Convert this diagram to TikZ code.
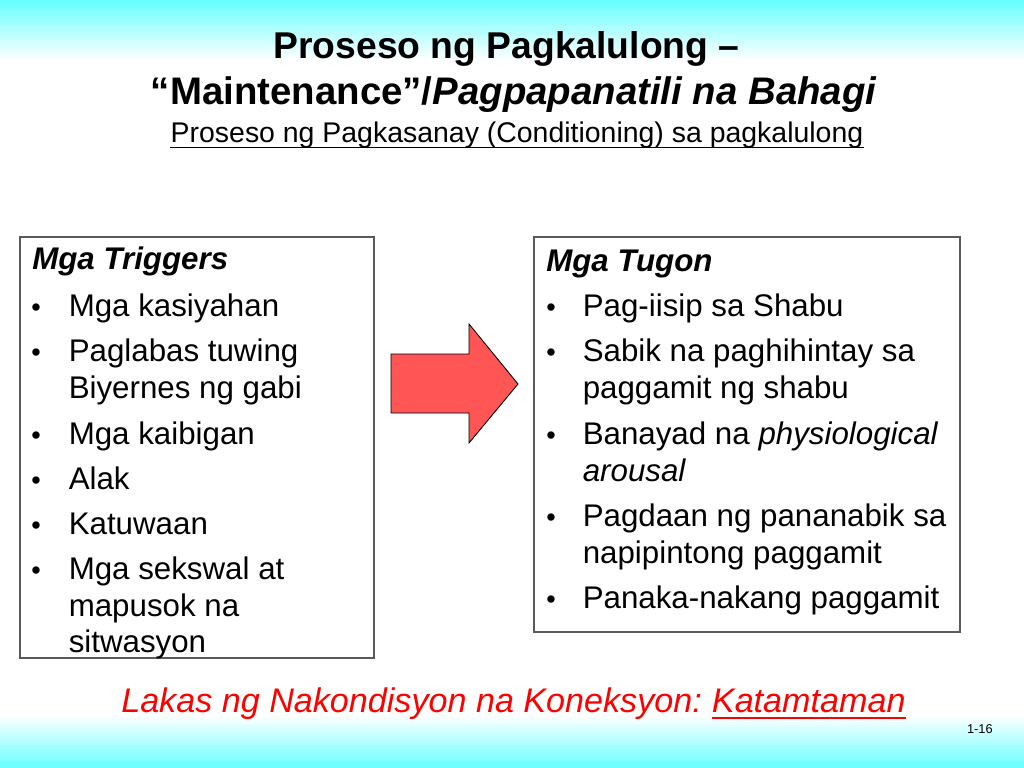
\documentclass[tikz,border=0pt]{standalone}
\usepackage{fontspec}
\setmainfont{Liberation Sans}
\usetikzlibrary{fit}
\definecolor{cyanbg}{RGB}{102,255,255}
\definecolor{arrowred}{RGB}{255,85,85}
\definecolor{boxgray}{RGB}{90,90,90}
\begin{document}
\begin{tikzpicture}[x=0.703125pt,y=-0.703125pt,
  txt/.style={inner sep=0pt, anchor=base west, font=\fontsize{22}{26}\selectfont},
  bul/.style={inner sep=0pt, anchor=base west, font=\fontsize{19}{22}\selectfont},
  head/.style={txt, font=\fontsize{22}{26}\selectfont\bfseries\itshape},
  box/.style={draw=boxgray, line width=0.8pt, inner sep=0pt},
  ttl/.style={inner sep=0pt, anchor=base, font=\fontsize{26.2}{30}\selectfont\bfseries},
  ttlb/.style={inner sep=0pt, anchor=base, font=\fontsize{27}{30}\selectfont\bfseries},
  sub/.style={inner sep=0pt, anchor=base, font=\fontsize{20}{24}\selectfont},
  strength/.style={inner sep=0pt, anchor=base west, text=red, font=\fontsize{24}{28}\selectfont\itshape},
  ]
\useasboundingbox (0,0) rectangle (1024,768);
\fill[white] (0,0) rectangle (1024,768);
\shade[top color=cyanbg, bottom color=white] (0,0) rectangle (1024,60);
\shade[top color=white, bottom color=cyanbg] (0,715) rectangle (1024,768);

% title
\node[ttl] (t1) at (506.5,58.5) {Proseso ng Pagkalulong –};
\node[ttlb] (t2) at (514,104.5) {“Maintenance”/\textit{Pagpapanatili na Bahagi}};
\node[sub] (t3) at (517,143) {Proseso ng Pagkasanay (Conditioning) sa pagkalulong};
\draw[line width=1pt] ([yshift=-3.2pt]t3.base west) -- ([yshift=-3.2pt]t3.base east);

% boxes
\node[box, fit={(20,237) (374,658)}] (trig) {};
\node[box, fit={(534,237) (960,632)}] (tug) {};

% left box
\node[head] (lh) at (32,270) {Mga Triggers};
\node[bul] (lb1) at (31,316.7) {•};
\node[bul] (lb2) at (31,361.7) {•};
\node[bul] (lb3) at (31,444.3) {•};
\node[bul] (lb4) at (31,489.3) {•};
\node[bul] (lb5) at (31,534.3) {•};
\node[bul] (lb6) at (31,579.3) {•};
\node[txt] (l1) at (68.5,316.7) {Mga kasiyahan};
\node[txt] (l2) at (68.5,361.7) {Paglabas tuwing};
\node[txt] (l2b) at (68.5,398.3) {Biyernes ng gabi};
\node[txt] (l3) at (68.5,444.3) {Mga kaibigan};
\node[txt] (l4) at (68.5,489.3) {Alak};
\node[txt] (l5) at (68.5,534.3) {Katuwaan};
\node[txt] (l6) at (68.5,579.3) {Mga sekswal at};
\node[txt] (l6b) at (68.5,616) {mapusok na};
\node[txt] (l6c) at (68.5,652.7) {sitwasyon};

% right box
\node[head] (rh) at (546,271.7) {Mga Tugon};
\node[bul] (rb1) at (546,316.7) {•};
\node[bul] (rb2) at (546,361.7) {•};
\node[bul] (rb3) at (546,444.3) {•};
\node[bul] (rb4) at (546,526.7) {•};
\node[bul] (rb5) at (546,608.3) {•};
\node[txt] (r1) at (582.5,316.7) {Pag-iisip sa Shabu};
\node[txt] (r2) at (582.5,361.7) {Sabik na paghihintay sa};
\node[txt] (r2b) at (582.5,398.3) {paggamit ng shabu};
\node[txt] (r3) at (582.5,444.3) {Banayad na \textit{physiological}};
\node[txt] (r3b) at (582.5,481.7) {\textit{arousal}};
\node[txt] (r4) at (582.5,526.7) {Pagdaan ng pananabik sa};
\node[txt] (r4b) at (582.5,563.3) {napipintong paggamit};
\node[txt] (r5) at (582.5,608.3) {Panaka-nakang paggamit};

% arrow
\draw[fill=arrowred, line width=0.6pt, line join=miter] (391,354) -- (469,354) -- (469,324) -- (518,384) -- (469,443) -- (469,413) -- (391,413) -- cycle;

% bottom
\node[strength] (lk) at (121,712.7) {Lakas ng Nakondisyon na Koneksyon:};
\node[strength] (kt) at ([xshift=6.67pt]lk.base east) {Katamtaman};
\draw[red, line width=1.2pt] ([yshift=-3.5pt]kt.base west) -- ([yshift=-3.5pt]kt.base east);
\node[inner sep=0pt, anchor=base east, font=\fontsize{9}{10}\selectfont] (pg) at (993,733) {1-16};
\end{tikzpicture}
\end{document}
